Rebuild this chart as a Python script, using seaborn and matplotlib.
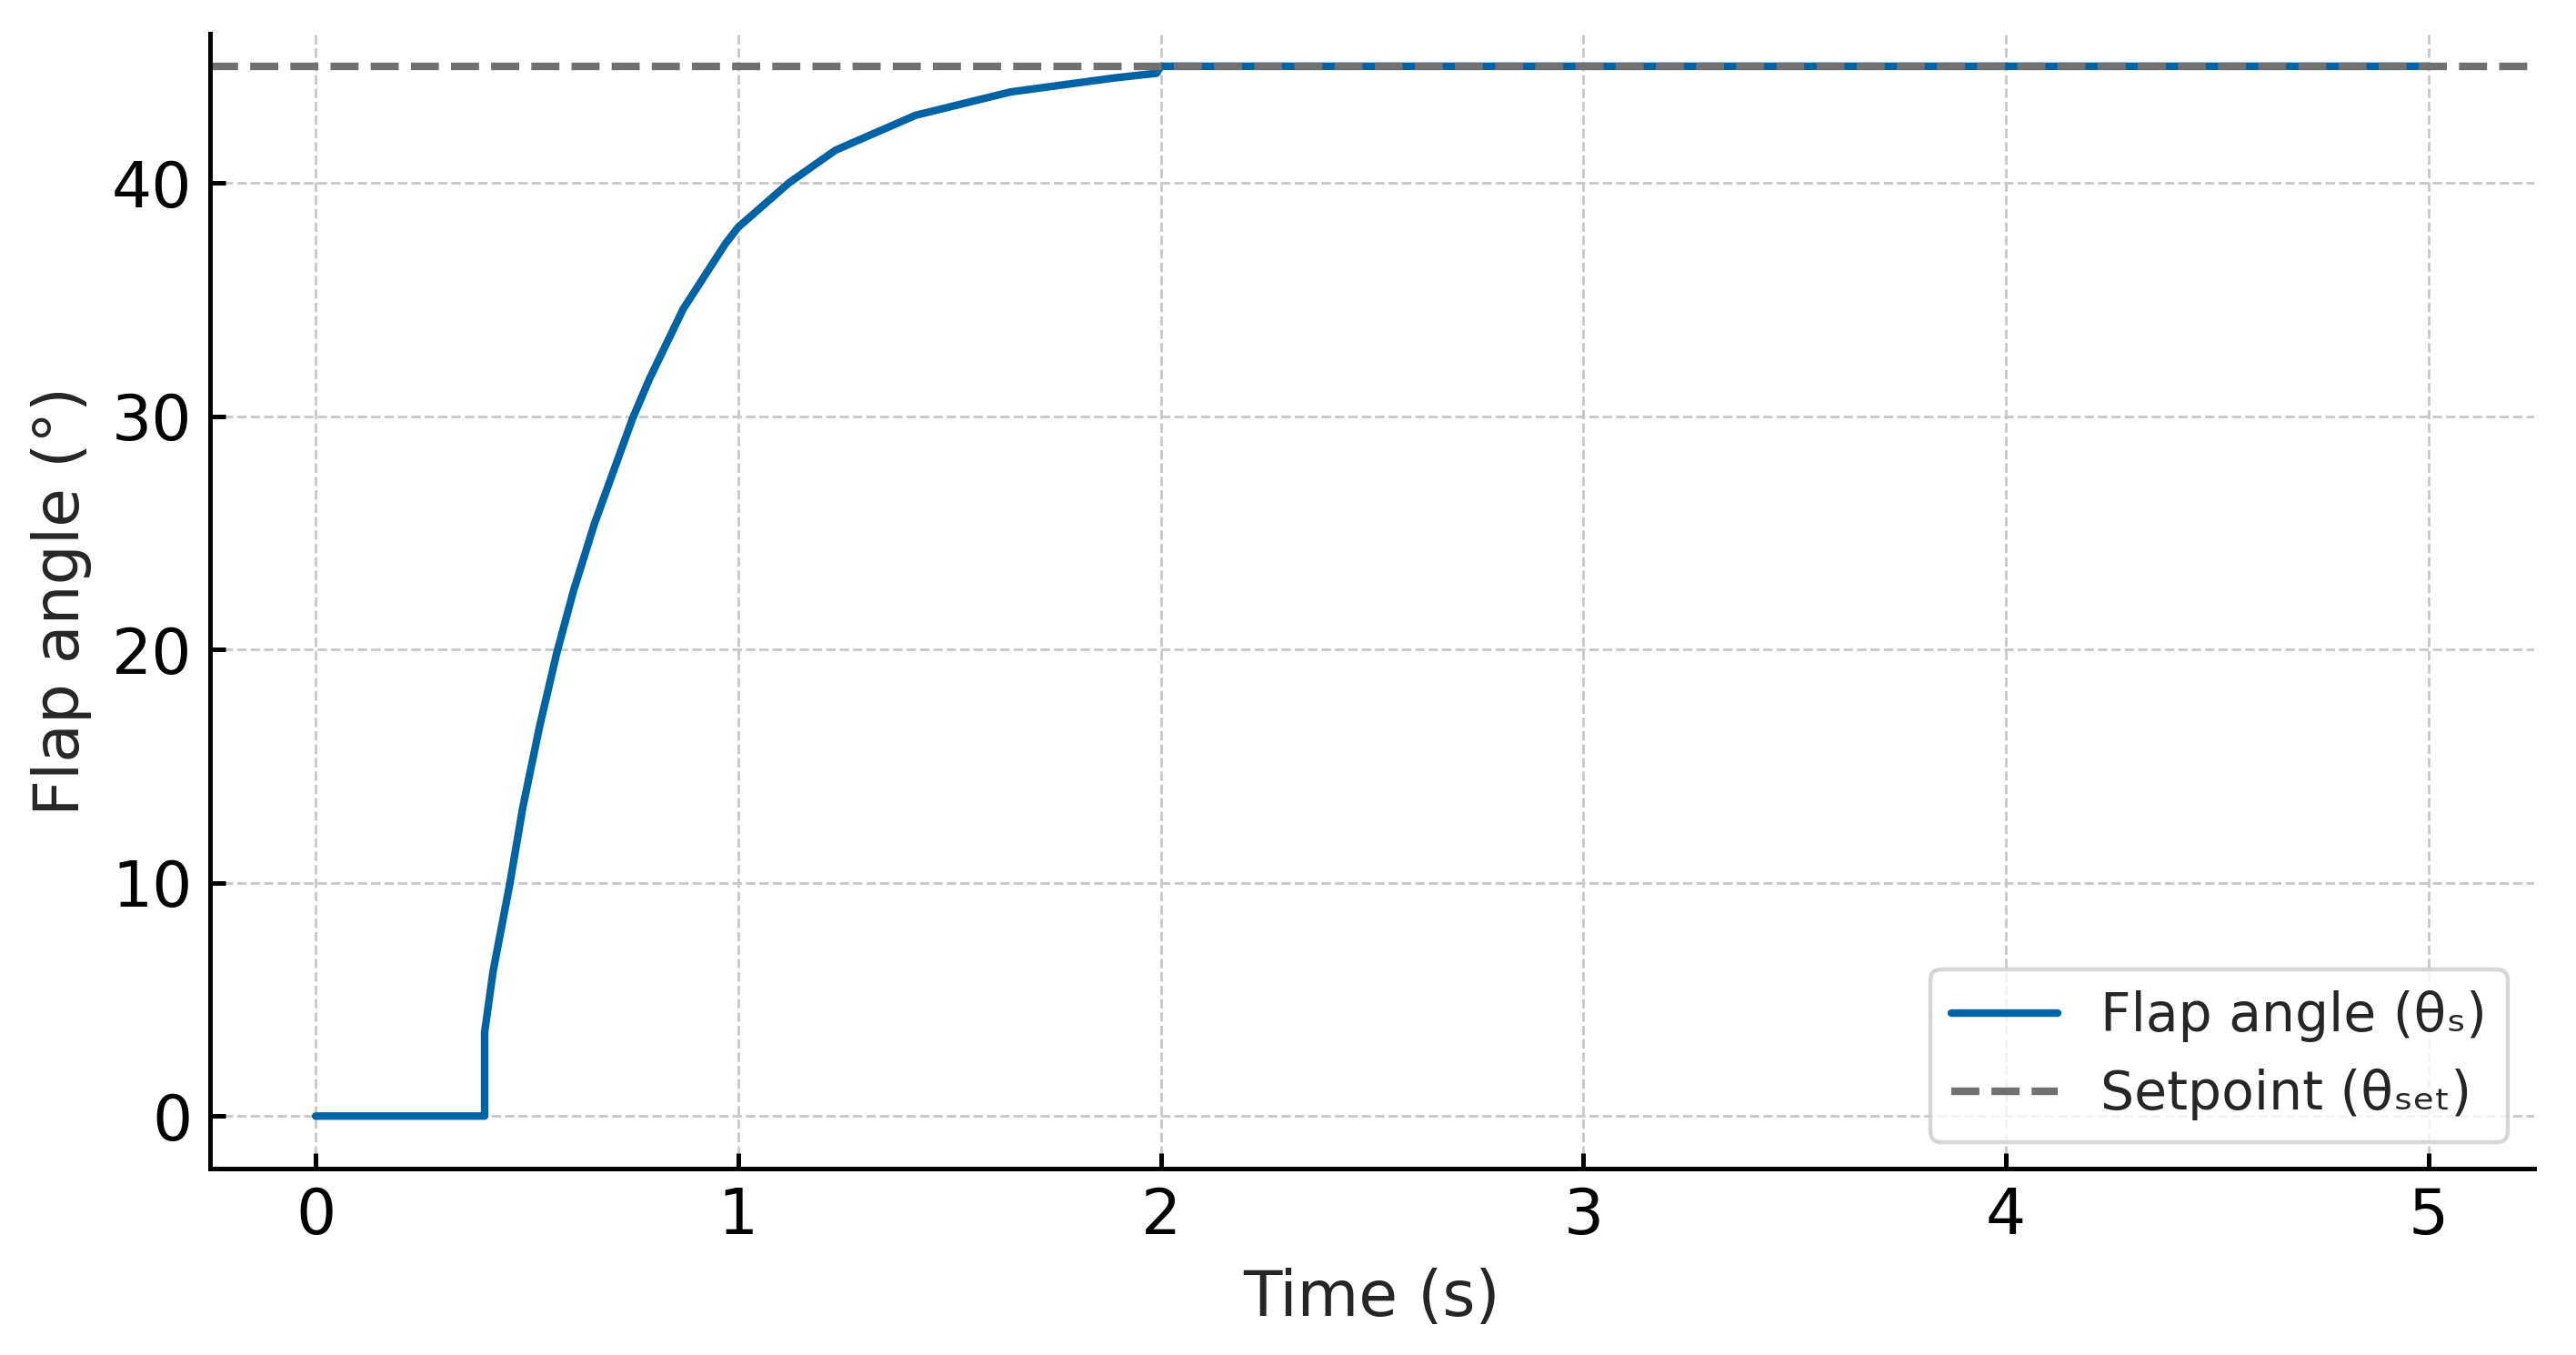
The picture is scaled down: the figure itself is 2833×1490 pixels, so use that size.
import matplotlib
matplotlib.use('Agg')
import matplotlib.pyplot as plt
import seaborn as sns
import pandas as pd

# Flap response
time_s = [0.0, 0.40, 0.40, 0.42, 0.46, 0.49, 0.53, 0.57, 0.61, 0.66, 0.71, 0.75,
          0.79, 0.87, 0.97, 1.00, 1.12, 1.23, 1.42, 1.645, 1.89, 1.99, 2.00, 5.00]
flap_deg = [0.0, 0.0, 3.6, 6.2, 10.0, 13.2, 16.7, 19.8, 22.5, 25.4, 27.9, 29.9,
            31.6, 34.6, 37.4, 38.1, 40.0, 41.4, 42.9, 43.9, 44.5, 44.7, 45.0, 45.0]
setpoint = 45.0
x_ticks = [0, 1, 2, 3, 4, 5]
y_ticks = [0, 10, 20, 30, 40]

df = pd.DataFrame({'Time': time_s, 'Flap': flap_deg})

sns.set_style('ticks')
plt.rcParams['font.family'] = ['DejaVu Sans']

fig = plt.figure(figsize=(2833 / 400, 1490 / 400), dpi=400)
ax = fig.add_axes([0.0815, 0.1376, 0.9838 - 0.0815, 0.9752 - 0.1376])

sns.lineplot(x='Time', y='Flap', data=df, ax=ax, estimator=None, sort=False,
             color='#0063a6', linewidth=1.5, label='Flap angle (θₛ)')
ax.axhline(setpoint, color='#707070', linestyle='--', linewidth=1.5,
           label='Setpoint (θₛₑₜ)')

ax.set_xlim(-0.25, 5.25)
ax.set_ylim(-2.25, 46.4)
ax.set_xticks(x_ticks)
ax.set_yticks(y_ticks)
ax.grid(True, linestyle='--', color='#c8c8c8', linewidth=0.5)
ax.set_axisbelow(True)

for side in ['top', 'right']:
    ax.spines[side].set_visible(False)
for side in ['left', 'bottom']:
    ax.spines[side].set_linewidth(0.9)
    ax.spines[side].set_color('black')

ax.tick_params(direction='in', length=3, width=0.9, labelsize=12.5, colors='black')
ax.set_xlabel('Time (s)', fontsize=12.5)
ax.set_ylabel('Flap angle (°)', fontsize=12.5)

leg = ax.legend(loc='lower right', fontsize=10.5, frameon=True, fancybox=True,
                borderaxespad=0.5)
leg.get_frame().set_edgecolor('#cccccc')
leg.get_frame().set_linewidth(0.8)

fig.savefig('out.png', dpi=400)
